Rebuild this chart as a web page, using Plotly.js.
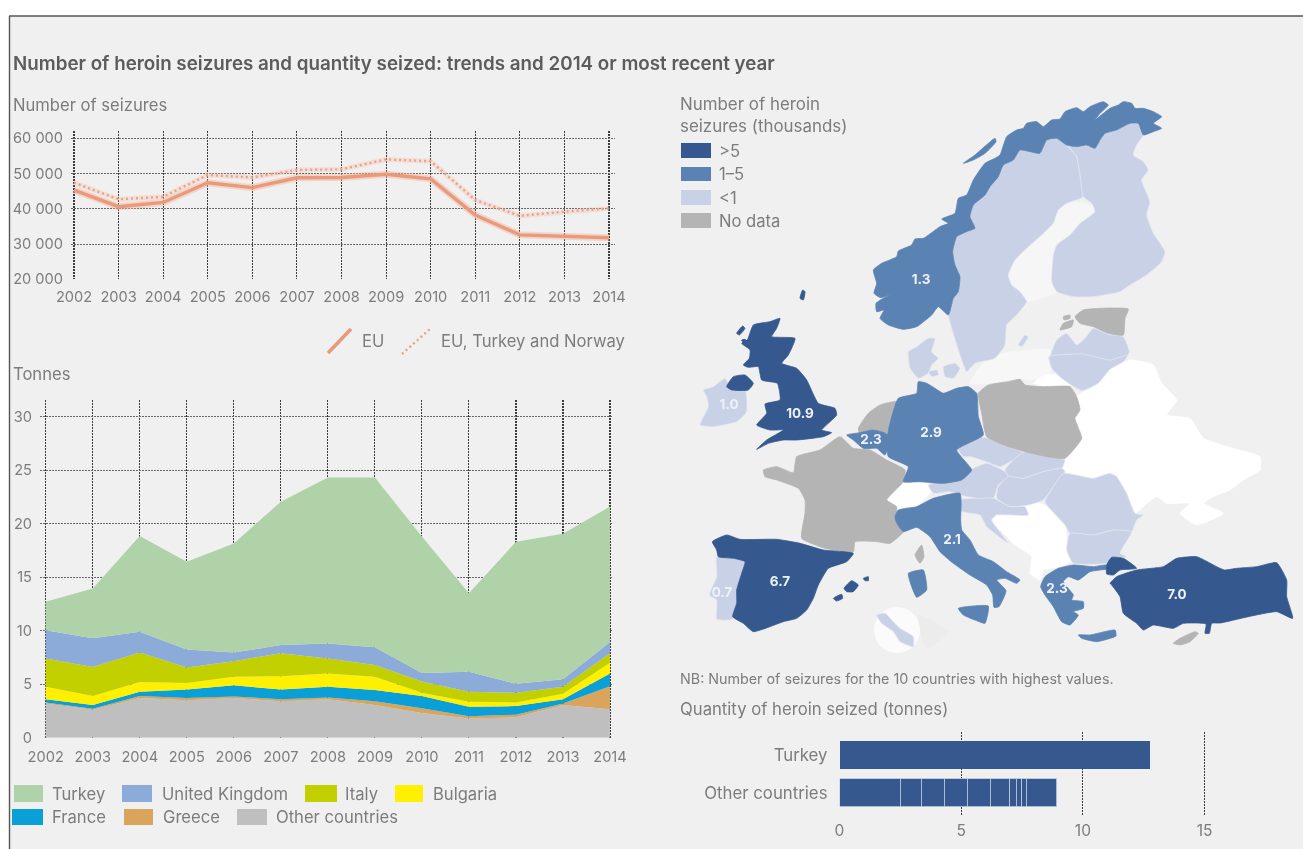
<!DOCTYPE html>
<html>
<head>
<meta charset="utf-8">
<script src="https://cdn.plot.ly/plotly-3.0.1.min.js"></script>
<style>
html,body{margin:0;padding:0;background:#fff}
#chart{width:1303px;height:849px;filter:blur(0.55px)}
</style>
</head>
<body>
<div id="chart"></div>
<script>
// ---------- data ----------
const years = [2002,2003,2004,2005,2006,2007,2008,2009,2010,2011,2012,2013,2014];
const seizuresEU = [45300,40600,41800,47400,46000,48800,48900,49800,48500,38250,32600,32300,31800];
const seizuresEUTN = [47400,42700,43400,49600,48900,51000,51200,54000,53500,42500,38000,39200,40100];

const tOther    = [3.2,2.6,3.7,3.5,3.7,3.4,3.6,3.05,2.3,1.8,1.9,3.05,2.65];
const tGreece   = [0.1,0.1,0.2,0.2,0.15,0.2,0.15,0.35,0.45,0.2,0.25,0.15,2.15];
const tFrance   = [0.3,0.35,0.4,0.8,1.05,0.9,1.0,1.05,1.15,0.9,0.8,0.4,1.2];
const tBulgaria = [1.15,0.85,0.9,0.6,0.8,1.25,1.25,1.25,0.3,0.45,0.35,0.5,1.0];
const tItaly    = [2.65,2.7,2.75,1.45,1.45,2.15,1.4,1.1,1.05,0.95,0.9,0.65,0.9];
const tUK       = [2.65,2.7,1.95,1.7,0.8,0.75,1.4,1.65,0.8,1.85,0.85,0.7,1.05];
const tTurkey   = [2.65,4.65,8.95,8.2,10.2,13.4,15.5,15.85,12.75,7.35,13.25,13.6,12.65];

const barCats = ["Other countries","Turkey"];
const barTurkey = 12.77;
const barOthers = [2.5,0.85,0.95,0.95,0.95,0.8,0.27,0.22,0.19,1.24];

const mapLabels = ["1.3","1.0","10.9","2.3","2.9","2.1","6.7","0.7","2.3","7.0"];
const mapLabelX = [921,729,800,871,931,952,780,722,1057,1177];
const mapLabelY = [281,406,415,441,434,541,583,594,590,596];

const C_DARK='#35598f', C_MID='#5a83b4', C_LIGHT='#c9d1e6', C_NONE='#b4b4b4', C_WHITE='#ffffff';

// map outlines; each list is x,y pairs in a crop whose corner is given
const Bothnia=[860,95,[595,345,640,320,700,335,700,355,630,420,590,450,575,560,590,590,500,620,455,570,445,540,465,495,545,420,580,385]];
const BalticGlow=[950,350,[60,100,100,40,160,10,300,0,300,70,250,90,210,85,115,100]];
const Norway=[860,95,[130,703,85,690,60,670,72,645,50,650,48,625,70,610,90,600,62,608,42,595,50,565,40,525,65,505,110,485,115,468,155,450,165,432,190,430,240,395,265,385,245,372,285,355,295,310,320,300,340,255,375,205,405,190,420,180,440,125,470,105,490,100,500,85,530,80,550,95,575,75,600,72,615,50,650,38,670,50,690,35,730,20,745,30,720,55,705,75,750,40,775,30,790,20,815,25,825,40,850,40,880,50,905,65,880,85,905,100,880,110,850,120,835,85,810,85,770,105,735,115,720,135,705,160,680,150,650,155,620,150,590,130,560,135,540,175,510,170,480,165,460,195,430,210,415,245,390,275,375,300,340,330,330,365,345,400,320,410,290,425,278,470,285,510,300,545,295,590,280,610,265,660,235,635,215,660,170,695]];
const Lofoten=[860,95,[310,205,345,180,405,130,408,140,375,175,340,195]];
const Sweden=[860,95,[560,135,590,130,620,150,650,185,660,240,670,305,620,325,595,345,580,385,545,420,500,460,465,495,445,540,455,570,480,590,500,620,470,660,440,690,435,750,405,790,345,805,320,830,300,780,275,700,265,660,280,610,295,590,300,545,285,510,278,470,290,425,320,410,345,400,330,365,340,330,375,300,390,275,415,245,430,210,460,195,480,165,510,170,540,175]];
const Gotland=[860,95,[475,750,495,720,505,725,485,755]];
const Finland=[860,95,[625,152,650,155,680,150,705,160,720,135,735,115,770,105,810,85,835,85,850,120,830,150,820,180,850,200,865,225,845,255,870,320,860,360,880,415,915,470,905,500,860,540,810,570,780,590,700,605,640,605,590,590,575,560,580,480,590,450,630,420,660,385,705,350,695,325,670,305,660,240,650,185]];
const Estonia=[860,95,[645,665,670,645,720,640,805,642,795,670,790,720,745,715,700,695,660,685]];
const Saaremaa=[860,95,[600,705,610,685,640,675,635,695]];
const Hiiumaa=[860,95,[610,665,630,660,630,670,612,675]];
const Latvia=[860,95,[572,785,590,735,620,715,650,750,675,730,700,700,745,718,790,725,808,770,800,785,730,800,640,780]];
const Lithuania=[950,350,[297,20,400,12,480,30,535,15,520,35,480,58,445,100,395,122,335,85,305,55]];
const Jutland=[860,95,[145,770,170,755,205,730,225,730,215,770,235,790,215,810,205,835,175,850,150,820]];
const Zealand=[860,95,[250,815,285,805,300,820,280,850,255,845]];
const Funen=[860,95,[205,830,232,825,235,840,215,845]];
const Poland=[950,350,[85,130,115,105,175,95,210,88,225,105,280,110,360,110,380,140,390,180,375,205,395,265,345,325,290,320,225,305,175,290,110,260,95,190]];
const BelarusUkraine=[950,350,[375,205,390,180,380,140,440,105,480,60,540,30,610,45,635,100,680,150,650,195,720,205,760,265,830,290,930,320,930,360,880,390,840,420,790,440,760,460,820,490,740,525,690,490,720,460,650,460,620,440,590,460,555,490,530,430,500,380,480,370,430,385,340,365,345,325,395,265]];
const Kaliningrad=[950,350,[250,100,285,75,345,75,358,108,280,108]];
const Czechia=[950,350,[20,290,55,265,105,262,175,290,225,310,190,330,150,350,110,335,60,320,40,320]];
const Slovakia=[950,350,[195,325,225,305,290,320,345,330,335,355,280,365,220,385,175,380,165,360]];
const Austria=[950,350,[-65,405,-20,392,30,390,60,360,110,340,165,365,175,380,145,405,130,445,80,445,30,435,0,425,-50,430]];
const Hungary=[950,350,[175,380,220,385,280,365,335,355,345,365,310,410,280,450,235,465,180,470,140,445,145,410]];
const Romania=[950,350,[340,370,430,385,480,370,500,380,530,430,555,490,580,495,560,510,545,545,490,540,430,555,360,550,345,525,285,455,310,410]];
const Bulgaria=[950,350,[360,550,430,555,490,540,545,545,520,590,510,610,530,620,480,630,470,640,370,640,350,600]];
const Croatia=[950,350,[25,450,80,445,130,445,180,470,225,470,235,495,140,495,125,510,175,580,110,530,90,495,60,490,25,480]];
const WestBalkans=[950,350,[125,500,225,465,270,460,290,470,345,525,350,590,360,635,330,650,280,660,270,690,240,670,245,620,190,580,125,510]];
const Greece=[950,350,[272,710,285,680,325,655,370,645,430,650,470,645,480,655,420,665,385,690,355,680,340,695,370,735,365,750,400,755,400,775,370,785,385,795,360,825,335,815,310,770,285,735]];
const Crete=[950,350,[385,855,420,855,495,840,498,858,440,875,395,865]];
const TurkeyEurope=[950,350,[470,645,485,622,520,625,560,655,510,660,490,675,470,672]];
const TurkeyAsia=[950,350,[480,700,500,680,560,660,640,650,680,625,740,620,800,650,823,660,860,655,920,650,980,638,1010,690,1010,740,1028,805,980,785,895,800,811,819,785,820,778,850,765,850,768,822,700,820,670,835,610,825,580,840,560,820,520,790,510,740,485,705]];
const Cyprus=[950,350,[670,880,690,865,735,845,745,850,720,875,690,885]];
const Italy=[700,500,[595,30,650,20,700,-5,780,-20,782,60,785,90,810,120,835,165,880,185,920,215,960,240,950,250,915,235,890,240,918,272,897,320,882,322,878,285,860,255,810,225,760,190,720,155,690,110,650,82,610,95,590,70,585,50]];
const Sicily=[700,500,[775,325,865,318,855,370,830,362,790,345]];
const Sardinia=[700,500,[625,220,670,210,680,270,650,292,635,260]];
const Corsica=[700,500,[645,165,665,135,672,170,660,190]];
const Spain=[700,500,[37,125,80,105,120,118,230,118,300,130,370,150,460,160,440,185,385,205,355,255,340,295,320,330,290,355,250,365,160,395,130,370,98,350,110,310,110,270,125,220,135,185,100,175,55,170,50,150]];
const Portugal=[700,500,[50,170,100,175,135,185,125,220,110,270,110,310,98,358,50,358,50,300,28,285,50,230]];
const Mallorca=[700,500,[432,265,455,242,475,255,460,275,440,275]];
const Ibiza=[700,500,[400,295,425,283,428,295,410,303]];
const Menorca=[700,500,[490,235,505,230,505,242,495,242]];
const France=[690,280,[220,570,260,560,310,578,320,530,390,510,450,470,490,505,540,510,590,540,645,570,640,605,590,660,620,680,618,730,640,755,600,790,560,785,495,785,490,815,405,805,335,775,345,700,345,660,325,625,260,600,225,590]];
const Britain=[690,280,[200,508,230,480,280,450,240,450,200,435,230,400,225,372,270,360,262,310,215,300,205,260,175,262,160,255,178,235,180,210,155,190,172,180,190,135,240,125,270,115,260,145,245,170,315,175,295,225,275,250,320,265,350,300,385,370,435,385,440,405,415,430,395,450,425,458,400,470,320,480,280,480,235,490]];
const Skye=[690,280,[140,160,158,138,165,145,148,165]];
const Mull=[690,280,[155,180,165,178,178,190,165,195]];
const Shetland=[690,280,[330,55,338,30,345,35,340,60]];
const NIreland=[690,280,[110,320,130,290,165,285,190,310,175,330,125,330]];
const Ireland=[690,280,[40,330,70,320,105,295,120,320,125,330,165,325,170,395,140,425,70,440,30,435,55,380,50,350]];
const Germany=[690,280,[685,305,710,310,735,325,760,340,800,325,835,320,860,340,865,410,880,465,800,510,845,570,815,600,760,610,690,605,640,605,655,560,595,530,590,480,600,430,625,355,680,340]];
const Netherlands=[690,280,[505,445,535,400,570,375,620,365,600,430,590,460,550,450,510,462]];
const Belgium=[690,280,[470,465,510,458,550,450,590,462,597,490,585,525,560,505,520,505,490,480]];
const Switzerland=[690,280,[590,660,640,605,690,610,730,615,720,640,700,660,680,680,650,680,620,690]];
const MaltaShadow=[700,500,[655,345,745,395,680,445]];
const MaltaIsland=[700,500,[530,345,555,340,580,365,600,385,640,410,640,440,600,425,580,395,545,370]];
const maltaX=[897], maltaY=[630];

// ---------- helpers ----------
const W=1303,H=849;
const px=x=>x/W, py=y=>1-y/H;
const GRID='#3c3c3c', GRIDH='#666666', TXT='#7c7c7c';
const FONT='Inter, sans-serif';
function rings(...lists){
  const x=[],y=[];
  lists.forEach((l,i)=>{
    if(i){x.push(null);y.push(null);}
    const [ox,oy,p]=l;
    for(let k=0;k<p.length;k+=2){x.push(ox+p[k]/3);y.push(oy+p[k+1]/3);}
    x.push(ox+p[0]/3);y.push(oy+p[1]/3);
  });
  return {x,y};
}
const traces=[];
// line chart
traces.push({type:'scatter',mode:'lines',name:'EU, Turkey and Norway halo',x:years,y:seizuresEUTN,xaxis:'x',yaxis:'y',
  line:{color:'rgba(245,190,165,0.3)',width:5},hoverinfo:'skip'});
traces.push({type:'scatter',mode:'lines',name:'EU, Turkey and Norway',x:years,y:seizuresEUTN,xaxis:'x',yaxis:'y',
  line:{color:'#ee9f84',width:2.4,dash:'2px,3px'},hoverinfo:'skip'});
traces.push({type:'scatter',mode:'lines',name:'EU halo',x:years,y:seizuresEU,xaxis:'x',yaxis:'y',
  line:{color:'rgba(245,180,150,0.45)',width:7},hoverinfo:'skip'});
traces.push({type:'scatter',mode:'lines',name:'EU',x:years,y:seizuresEU,xaxis:'x',yaxis:'y',
  line:{color:'#e99a7c',width:3.4},hoverinfo:'skip'});
// stacked areas
[['Other countries',tOther,'#bfbfbf'],['Greece',tGreece,'#d9a45b'],['France',tFrance,'#0a9fd6'],
 ['Bulgaria',tBulgaria,'#fff000'],['Italy',tItaly,'#c3d000'],['United Kingdom',tUK,'#8cabd8'],['Turkey',tTurkey,'#b0d2a8']]
.forEach(([n,v,c])=>traces.push({type:'scatter',mode:'none',name:n,x:years,y:v,xaxis:'x2',yaxis:'y2',
  stackgroup:'t',fillcolor:c,hoverinfo:'skip'}));
// bars
traces.push({type:'bar',orientation:'h',name:'Turkey',x:[barTurkey],y:['Turkey'],xaxis:'x3',yaxis:'y3',
  marker:{color:C_DARK,line:{width:0}},hoverinfo:'skip'});
barOthers.forEach((v,i)=>traces.push({type:'bar',orientation:'h',name:'Other country '+(i+1),x:[v],y:['Other countries'],xaxis:'x3',yaxis:'y3',
  marker:{color:C_DARK,line:{color:'#b9c7dd',width:0.9}},hoverinfo:'skip'}));
// map
function land(name,color,...l){
  const r=rings(...l);
  traces.push({type:'scatter',mode:'lines',name,x:r.x,y:r.y,xaxis:'x4',yaxis:'y4',fill:'toself',fillcolor:color,
    line:{color:color===C_LIGHT?'#e3e7f1':color,width:0.8,shape:'spline',smoothing:0.45},hoverinfo:'skip'});
}
land('Gulf of Bothnia','#f6f6f6',Bothnia);
land('Baltic coast','#f7f7f7',BalticGlow);
land('Inset shadow','#ececec',MaltaShadow);
traces.push({type:'scatter',mode:'markers',name:'Inset',x:maltaX,y:maltaY,xaxis:'x4',yaxis:'y4',
  marker:{size:46,color:'#fbfbfb',line:{width:0}},hoverinfo:'skip'});
land('Malta',C_LIGHT,MaltaIsland);
land('Belarus and Ukraine',C_WHITE,BelarusUkraine);
land('Kaliningrad',C_WHITE,Kaliningrad);
land('Western Balkans',C_WHITE,WestBalkans);
land('Switzerland',C_WHITE,Switzerland);
land('Sweden',C_LIGHT,Sweden,Gotland);
land('Finland',C_LIGHT,Finland);
land('Latvia',C_LIGHT,Latvia);
land('Lithuania',C_LIGHT,Lithuania);
land('Denmark',C_LIGHT,Jutland,Zealand,Funen);
land('Czechia',C_LIGHT,Czechia);
land('Slovakia',C_LIGHT,Slovakia);
land('Austria',C_LIGHT,Austria);
land('Hungary',C_LIGHT,Hungary);
land('Romania',C_LIGHT,Romania);
land('Bulgaria',C_LIGHT,Bulgaria);
land('Croatia and Slovenia',C_LIGHT,Croatia);
land('Ireland',C_LIGHT,Ireland);
land('Portugal',C_LIGHT,Portugal);
land('Estonia',C_NONE,Estonia,Saaremaa,Hiiumaa);
land('Poland',C_NONE,Poland);
land('France',C_NONE,France,Corsica);
land('Netherlands',C_NONE,Netherlands);
land('Cyprus',C_NONE,Cyprus);
land('Norway',C_MID,Norway,Lofoten);
land('Germany',C_MID,Germany);
land('Belgium',C_MID,Belgium);
land('Italy',C_MID,Italy,Sicily,Sardinia);
land('Greece',C_MID,Greece,Crete);
land('United Kingdom',C_DARK,Britain,Skye,Mull,Shetland,NIreland);
land('Spain',C_DARK,Spain,Mallorca,Ibiza,Menorca);
land('Turkey',C_DARK,TurkeyEurope,TurkeyAsia);
traces.push({type:'scatter',mode:'text',name:'Seizures (thousands)',x:mapLabelX,y:mapLabelY,text:mapLabels,xaxis:'x4',yaxis:'y4',
  textfont:{family:FONT,size:13.5,color:'#eef1f7',weight:700},hoverinfo:'skip'});

// ---------- axes ----------
const DOT='1.5px,1.5px';
const gridCommon={showgrid:true,griddash:DOT,gridwidth:1.1,zeroline:false,showline:false,ticks:'',
  tickfont:{family:FONT,size:14.6,color:TXT},fixedrange:true};
const xg={...gridCommon,gridcolor:GRID}, yg={...gridCommon,gridcolor:GRIDH};
const yearsRange=(l,r,p0,p1)=>{const u=(p1-p0)/12;return [2002-(p0-l)/u,2014+(r-p1)/u];};

const layout={
  width:W,height:H,autosize:false,margin:{l:0,r:0,t:0,b:0},
  paper_bgcolor:'#ffffff',plot_bgcolor:'rgba(0,0,0,0)',showlegend:false,barmode:'stack',bargap:0.263,
  xaxis:{...xg,domain:[px(71),px(615)],range:yearsRange(71,615,74,609),anchor:'y',tickvals:years,ticklabelstandoff:7},
  yaxis:{...yg,domain:[py(279.3),py(131)],range:[20000,62070],anchor:'x',
    tickvals:[20000,30000,40000,50000,60000],ticktext:['20 000','30 000','40 000','50 000','60 000'],ticklabelstandoff:7},
  xaxis2:{...xg,domain:[px(40),px(613)],range:yearsRange(40,613,45.7,610),anchor:'y2',tickvals:years,ticklabelstandoff:9},
  yaxis2:{...yg,domain:[py(737.7),py(400)],range:[0,31.55],anchor:'x2',tickvals:[0,5,10,15,20,25,30],ticklabelstandoff:7},
  xaxis3:{...xg,domain:[px(839.5),px(1207)],range:[0,15.1],anchor:'y3',tickvals:[0,5,10,15],tickfont:{family:FONT,size:15.5,color:TXT},ticklabelstandoff:4},
  yaxis3:{...gridCommon,showgrid:false,type:'category',categoryorder:'array',categoryarray:barCats,domain:[py(815),py(732)],range:[-0.58,1.605],anchor:'x3',
    tickfont:{family:FONT,size:16.8,color:TXT},ticklabelstandoff:11},
  xaxis4:{domain:[0,1],range:[0,W],visible:false,fixedrange:true,anchor:'y4'},
  yaxis4:{domain:[0,1],range:[H,0],visible:false,fixedrange:true,anchor:'x4'},
  shapes:[
    {type:'rect',xref:'paper',yref:'paper',x0:px(9),x1:1,y0:0,y1:py(16),fillcolor:'#f0f0f0',line:{width:0},layer:'below'},
    {type:'line',xref:'paper',yref:'paper',x0:px(9),x1:1,y0:py(16),y1:py(16),line:{color:'#555',width:1.6},layer:'below'},
    {type:'line',xref:'paper',yref:'paper',x0:px(9.5),x1:px(9.5),y0:0,y1:py(16),line:{color:'#555',width:1.4},layer:'below'}
  ],
  annotations:[]
};
function note(text,x,y,size,opts={}){
  layout.annotations.push({xref:'paper',yref:'paper',x:px(x-2),y:py(y),text,showarrow:false,xanchor:'left',yanchor:'middle',
    font:{family:FONT,size,color:opts.color||TXT,weight:opts.weight||400},align:'left'});
}
function swatch(x0,y0,x1,y1,color){
  layout.shapes.push({type:'rect',xref:'paper',yref:'paper',x0:px(x0),x1:px(x1),y0:py(y1),y1:py(y0),fillcolor:color,line:{width:0}});
}
function sline(x0,y0,x1,y1,color,width,dash){
  layout.shapes.push({type:'line',xref:'paper',yref:'paper',x0:px(x0),x1:px(x1),y0:py(y0),y1:py(y1),line:{color,width,dash:dash||'solid'}});
}
note('Number of heroin seizures and quantity seized: trends and 2014 or most recent year',13,64,18.8,{weight:600,color:'#5c5c5c'});
note('Number of seizures',13,105,16.6);
note('Tonnes',13,374,16.6);
// line legend
sline(328,353,351,329,'#e99a7c',3.6);
note('EU',362,341,16.6);
sline(402,354,430,329,'#ee9f84',2.4,'2px,3px');
note('EU, Turkey and Norway',441,341,16.6);
// area legend
[[14,785,43,802,'#b0d2a8','Turkey',52],[122,785,152,802,'#8cabd8','United Kingdom',162],[305,785,337,802,'#c3d000','Italy',345],[395,785,423,802,'#fff000','Bulgaria',433],
 [12,809,43,825,'#0a9fd6','France',52],[124,809,153,825,'#d9a45b','Greece',163],[237,809,267,825,'#bfbfbf','Other countries',276]]
 .forEach(([a,b,c,d,col,t,tx])=>{swatch(a,b,c,d,col);note(t,tx,(b+d)/2,16.6);});
// map legend
note('Number of heroin',680,104,16.9);
note('seizures (thousands)',680,126,16.9);
[[143,158,C_DARK,'>5'],[167,181,C_MID,'1–5'],[190,205,C_LIGHT,'<1'],[213,228,C_NONE,'No data']]
 .forEach(([a,b,c,t])=>{swatch(681,a,711,b,c);note(t,719,(a+b)/2,16.6);});
note('NB: Number of seizures for the 10 countries with highest values.',680,679,14.3);
note('Quantity of heroin seized (tonnes)',680,709,16.7);

Plotly.newPlot('chart',traces,layout,{displayModeBar:false,staticPlot:true});
</script>
</body>
</html>
